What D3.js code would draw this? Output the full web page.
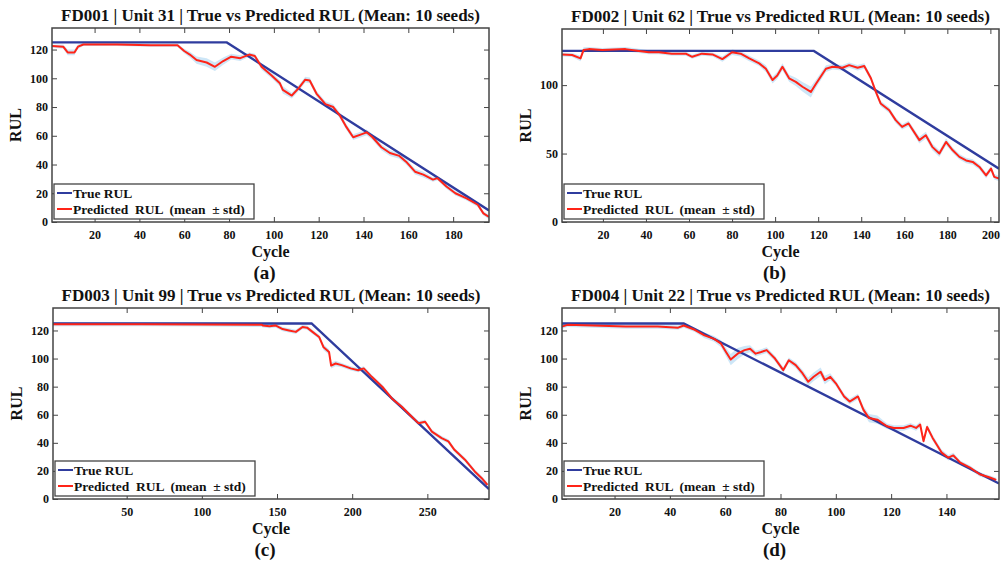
<!DOCTYPE html>
<html lang="en">

<head>
  <meta charset="utf-8">
  <title>True vs Predicted RUL</title>
  <script src="https://cdn.jsdelivr.net/npm/d3@7"></script>
  <style>
    body {
      margin: 0;
      background: #fff;
    }

    svg text {
      font-family: 'Liberation Serif', 'Tinos', 'DejaVu Serif', serif;
      font-weight: bold;
      fill: #111;
    }

    .axis path {
      display: none;
    }

    .axis line {
      stroke: #444;
      stroke-width: 1;
    }

    .axis text {
      font-size: 12px;
    }
  </style>
</head>

<body>
  <div id="box"></div>
  <script>
    // titles and tags
    const titles = [
      'FD001 | Unit 31 | True vs Predicted RUL (Mean: 10 seeds)',
      'FD002 | Unit 62 | True vs Predicted RUL (Mean: 10 seeds)',
      'FD003 | Unit 99 | True vs Predicted RUL (Mean: 10 seeds)',
      'FD004 | Unit 22 | True vs Predicted RUL (Mean: 10 seeds)'
    ]
    const tags = ['(a)', '(b)', '(c)', '(d)']
    const legendLabels = ['True RUL', 'Predicted  RUL  (mean  \u00b1 std)']

    // axis ranges and ticks
    const xDomains = [[1, 196], [1, 204], [1, 291], [1, 159]]
    const yDomains = [[0, 135], [0, 141], [0, 136], [0, 136]]
    const xTicks = [
      [20, 40, 60, 80, 100, 120, 140, 160, 180],
      [20, 40, 60, 80, 100, 120, 140, 160, 180, 200],
      [50, 100, 150, 200, 250],
      [20, 40, 60, 80, 100, 120, 140]
    ]
    const yTicks = [
      [0, 20, 40, 60, 80, 100, 120],
      [0, 50, 100],
      [0, 20, 40, 60, 80, 100, 120],
      [0, 20, 40, 60, 80, 100, 120]
    ]

    // true RUL (piecewise: cycle, RUL)
    const trueA = [[1, 125], [79, 125], [196, 8]]
    const trueB = [[1, 125], [118, 125], [204, 39]]
    const trueC = [[1, 125], [173, 125], [291, 7]]
    const trueD = [[1, 125], [45, 125], [159, 11]]

    // predicted RUL: [cycle, mean, std]
    const predA = [
      [1, 122.4, 1], [6, 122, 1.5], [8, 118, 2], [11, 118, 2], [12.6, 122, 1.5], [15, 123.5, 1],
      [30, 123.5, 1], [45, 123, 1], [57, 123, 1], [60, 119, 1.5], [62.5, 116.5, 2], [65.5, 112.7, 2.5],
      [70, 111, 3], [73.7, 108, 3], [77.4, 112, 2.5], [81, 115, 2], [85, 114, 2], [89, 116.5, 1.5],
      [91.5, 115.5, 1.5], [94.5, 108, 2], [99, 102, 2], [102.7, 96.5, 2], [104, 92, 2.5], [108, 88, 2],
      [111, 93, 2], [114, 99, 2], [116, 98.5, 2], [119, 89.4, 2], [123, 82, 2], [126.5, 80, 2],
      [129.5, 74, 2], [132.4, 66, 2], [135.4, 59, 2], [139, 61, 2], [141.4, 62.4, 2], [144, 59, 2],
      [148, 52, 2], [151.8, 48, 2], [156, 46, 2], [159, 42, 2], [163, 35, 2], [166.7, 33, 2],
      [171, 29.5, 1.5], [173, 30.5, 1.5], [177, 24.7, 1.5], [181, 20, 1.5], [186, 16.5, 1.5],
      [191, 12, 1.5], [193.5, 6, 1.5], [196, 3.5, 1.5]
    ]
    const predB = [
      [1, 122.4, 1.5], [5.7, 122, 1.5], [9.6, 119.5, 2], [11, 125.6, 2], [13.5, 126.3, 1.5], [19.7, 125.6, 1.5],
      [30.5, 126.3, 1.5], [36.7, 125, 1.5], [41.4, 124, 1.5], [46, 124, 1.5], [52, 123, 1.5], [58.5, 123, 1.5],
      [61.5, 120.7, 1.5], [66, 123, 1.5], [70.9, 122.4, 1.5], [75.5, 119, 2], [80, 124, 2], [84, 123, 2],
      [88, 119.5, 2], [92.6, 115.9, 2], [95.7, 112, 2.5], [98.8, 103.7, 2.5], [101, 107, 2.5], [103.4, 113.4, 2.5],
      [106.5, 105, 2.5], [109.6, 102.4, 3], [112.7, 98.8, 3.5], [116.6, 95, 4], [119, 101, 3], [123.6, 112, 2.5],
      [126.7, 113.4, 2], [131.3, 112.7, 2], [134.4, 114.6, 2], [138.3, 112.7, 2], [141.4, 114, 2], [144.5, 105, 2],
      [146.8, 95, 2], [149, 86.6, 2], [153, 81.7, 2], [156, 74.4, 2], [159, 69.5, 2], [162, 72, 2],
      [167, 59.8, 2.5], [170, 63.4, 2.5], [173, 54.9, 2.5], [176.3, 50, 2.5], [179.4, 58.5, 2.5], [182.5, 52.4, 2],
      [185.6, 47.6, 2], [188.7, 45, 2], [191.8, 43.9, 2], [194.9, 40.2, 2], [198, 34, 2], [200.3, 39, 2],
      [201.8, 33, 2], [204, 31.7, 2]
    ]
    const predC = [
      [1, 124.5, 1.5], [60, 124.5, 1.5], [100, 124.3, 1.5], [140, 124, 1.5], [140.5, 123.6, 1.5], [145, 123, 1.5],
      [149, 123.6, 1.5], [153.7, 121, 1.5], [158, 120, 1.5], [162.5, 119, 1.5], [167, 122.5, 1.5], [170, 122, 1.5],
      [173.6, 119, 1.5], [178, 115.4, 1.5], [181, 108, 2], [184.6, 104.7, 2], [186, 95, 2], [189, 96.5, 2],
      [193, 95.3, 1.5], [199, 93, 1.5], [204, 91.7, 1.5], [207.7, 93, 1.5], [213, 87, 1.5], [220, 80, 1.5],
      [226.4, 71.6, 1.5], [233, 65.7, 1.5], [238.5, 59.8, 1.5], [244, 54, 1.5], [248.5, 55, 1.5], [253, 48, 1.5],
      [259.5, 43.3, 1.5], [264, 41, 1.5], [268, 35, 1.5], [275, 28, 1.5], [281.5, 19.6, 1.5], [286, 15, 1.5],
      [290, 10, 1.5]
    ]
    const predD = [
      [1, 122.8, 1.5], [3, 124, 1.5], [12, 123.5, 1.5], [24, 122.8, 1.5], [35.6, 122.8, 1.5], [43, 122, 1.5],
      [45, 123.5, 1.5], [49, 120.5, 1.5], [52.5, 116.5, 2], [56, 114, 2], [58.5, 110.6, 2.5], [60.3, 104.7, 3],
      [62, 99.3, 4], [64.5, 103.5, 4], [67, 106, 3], [69, 107, 2.5], [71, 103.5, 2], [73, 104.7, 2],
      [75, 106, 2], [78, 100, 2], [81, 91.8, 2], [83, 98.8, 2], [85.5, 95.3, 2], [88, 89.4, 2.5],
      [90, 83.5, 3], [92, 87, 3], [94.5, 90.6, 3], [96, 84.7, 3], [98, 87, 2.5], [100, 82.4, 2],
      [103, 73, 2], [105, 69.4, 2], [108, 73, 2], [110, 63.5, 2.5], [112, 57.6, 3], [115, 56.5, 3],
      [118.5, 51.8, 2], [121, 50.6, 2], [124.5, 50.6, 2], [127, 52.2, 2], [129, 50.6, 2], [130.5, 53, 2],
      [131.7, 41.2, 2], [133, 51.3, 2], [135, 43.5, 2], [138.3, 33, 2], [140.7, 29.4, 2], [142.5, 31, 2],
      [145, 25.9, 1.5], [148.5, 22.4, 1.5], [152, 17.6, 1.5], [155.7, 15.3, 1.5], [158, 13.6, 1.5]
    ]

    const trueSeries = [trueA, trueB, trueC, trueD]
    const predSeries = [predA, predB, predC, predD]

    // plot boxes on the page
    const frames = [
      { left: 52, right: 489, top: 28, bottom: 222 },
      { left: 562, right: 999, top: 29, bottom: 222 },
      { left: 53, right: 489, top: 308, bottom: 499 },
      { left: 562, right: 999, top: 308, bottom: 499 }
    ]

    const width = 1003
    const height = 568
    const blue = '#2f3c9e'
    const red = '#ff2418'

    const eleSvg = d3.select('#box')
      .append('svg')
      .attr('width', width)
      .attr('height', height)

    frames.forEach((f, i) => {
      const xScale = d3.scaleLinear().domain(xDomains[i]).range([f.left, f.right])
      const yScale = d3.scaleLinear().domain(yDomains[i]).range([f.bottom, f.top])
      const g = eleSvg.append('g')

      g.append('clipPath')
        .attr('id', 'clip' + i)
        .append('rect')
        .attr('x', f.left)
        .attr('y', f.top)
        .attr('width', f.right - f.left)
        .attr('height', f.bottom - f.top)

      const plot = g.append('g').attr('clip-path', `url(#clip${i})`)

      // std band
      plot.append('path')
        .datum(predSeries[i])
        .attr('fill', '#c4e2f6')
        .attr('opacity', 0.85)
        .attr('d', d3.area()
          .x(d => xScale(d[0]))
          .y0(d => yScale(d[1] - d[2]))
          .y1(d => yScale(d[1] + d[2])))

      // true RUL
      plot.append('path')
        .datum(trueSeries[i])
        .attr('fill', 'none')
        .attr('stroke', blue)
        .attr('stroke-width', 2.4)
        .attr('d', d3.line().x(d => xScale(d[0])).y(d => yScale(d[1])))

      // predicted mean
      plot.append('path')
        .datum(predSeries[i])
        .attr('fill', 'none')
        .attr('stroke', red)
        .attr('stroke-width', 2)
        .attr('stroke-linejoin', 'round')
        .attr('d', d3.line().x(d => xScale(d[0])).y(d => yScale(d[1])))

      // axes, ticks pointing inward on all sides
      g.append('g')
        .attr('class', 'axis')
        .attr('transform', `translate(0,${f.bottom})`)
        .call(d3.axisBottom(xScale).tickValues(xTicks[i]).tickSizeInner(-5).tickSizeOuter(0).tickPadding(8))
      g.append('g')
        .attr('class', 'axis')
        .attr('transform', `translate(0,${f.top})`)
        .call(d3.axisTop(xScale).tickValues(xTicks[i]).tickSizeInner(-5).tickSizeOuter(0).tickFormat(''))
      g.append('g')
        .attr('class', 'axis')
        .attr('transform', `translate(${f.left},0)`)
        .call(d3.axisLeft(yScale).tickValues(yTicks[i]).tickSizeInner(-5).tickSizeOuter(0).tickPadding(4))
      g.append('g')
        .attr('class', 'axis')
        .attr('transform', `translate(${f.right},0)`)
        .call(d3.axisRight(yScale).tickValues(yTicks[i]).tickSizeInner(-5).tickSizeOuter(0).tickFormat(''))

      // frame
      g.append('rect')
        .attr('x', f.left)
        .attr('y', f.top)
        .attr('width', f.right - f.left)
        .attr('height', f.bottom - f.top)
        .attr('fill', 'none')
        .attr('stroke', '#444')
        .attr('stroke-width', 1.5)

      // title
      g.append('text')
        .attr('x', (f.left + f.right) / 2)
        .attr('y', f.top - 7)
        .attr('text-anchor', 'middle')
        .attr('font-size', 17)
        .text(titles[i])

      // axis labels
      g.append('text')
        .attr('x', (f.left + f.right) / 2)
        .attr('y', f.bottom + 35)
        .attr('text-anchor', 'middle')
        .attr('font-size', 16)
        .text('Cycle')
      g.append('text')
        .attr('transform', `translate(${f.left - 31},${(f.top + f.bottom) / 2}) rotate(-90)`)
        .attr('text-anchor', 'middle')
        .attr('font-size', 16)
        .text('RUL')

      // panel tag
      g.append('text')
        .attr('x', (f.left + f.right) / 2 - 6)
        .attr('y', f.bottom + 57)
        .attr('text-anchor', 'middle')
        .attr('font-size', 19)
        .text(tags[i])

      // legend
      const lg = g.append('g').attr('transform', `translate(${f.left + 2},${f.bottom - 38})`)
      lg.append('rect')
        .attr('width', 200)
        .attr('height', 35)
        .attr('fill', '#fff')
        .attr('stroke', '#444')
        .attr('stroke-width', 1.3)
      ;[blue, red].forEach((c, k) => {
        const yy = 9 + k * 16
        lg.append('line')
          .attr('x1', 3).attr('x2', 18)
          .attr('y1', yy).attr('y2', yy)
          .attr('stroke', c)
          .attr('stroke-width', 2)
        lg.append('text')
          .attr('x', 19)
          .attr('y', yy + 4.5)
          .attr('font-size', 13.5)
          .style('white-space', 'pre')
          .text(legendLabels[k])
      })
    })
  </script>
</body>

</html>
